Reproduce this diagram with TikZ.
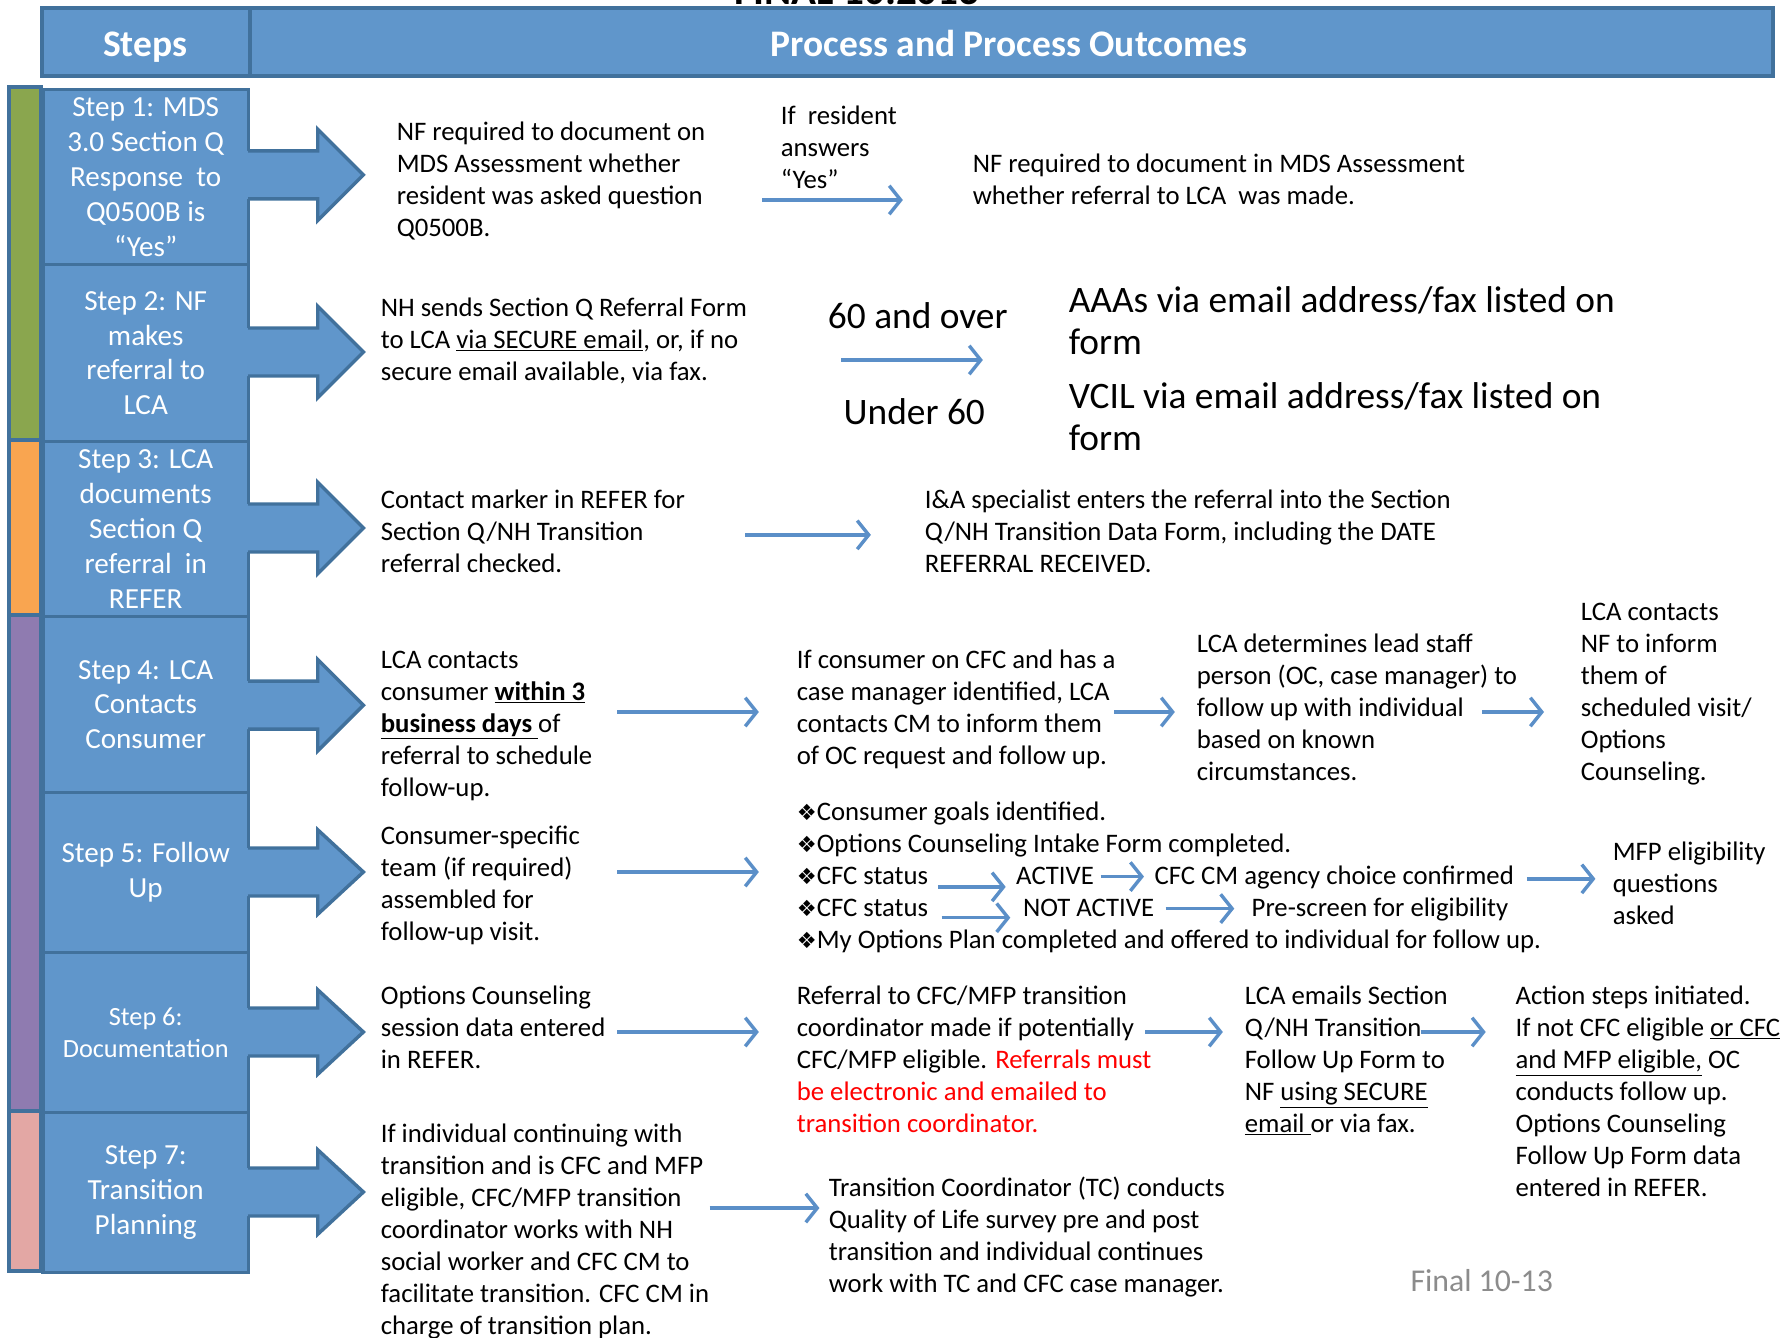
\documentclass[tikz,border=0pt]{standalone}
\usepackage{fontspec}
\setmainfont{Carlito}
\newfontfamily\symfnt{DejaVu Sans}
\usetikzlibrary{arrows.meta}
\definecolor{boxfill}{HTML}{6096CB}
\definecolor{boxline}{HTML}{41719C}
\definecolor{arr}{HTML}{5B8FC8}
\definecolor{sgreen}{HTML}{8AA64E}
\definecolor{sorange}{HTML}{F9A550}
\definecolor{spurple}{HTML}{8F7BB0}
\definecolor{spink}{HTML}{E3A7A4}
\definecolor{finalgray}{HTML}{8C8C8C}
\newcommand\dia{{\symfnt\fontsize{19.5}{28}\selectfont ❖}}
\newcommand\stepArrow[2]{%
  \fill[boxfill] (214,#1-21) -- (278,#1-21) -- (278,#1-#2) -- (318,#1) -- (278,#1+#2) -- (278,#1+21) -- (214,#1+21) -- cycle;
  \draw[boxline, line width=3pt, line join=miter] (217,#1-21) -- (278,#1-21) -- (278,#1-#2) -- (318,#1) -- (278,#1+#2) -- (278,#1+21) -- (217,#1+21);
}
\tikzset{
  txt/.style={anchor=base west, align=left, inner sep=0pt, font=\fontsize{23.4}{28}\selectfont},
  bigtxt/.style={anchor=base west, align=left, inner sep=0pt, font=\fontsize{32.7}{37}\selectfont},
  steptxt/.style={align=center, text=white, inner sep=0pt, font=\fontsize{25.5}{30.5}\selectfont},
  flow/.style={draw=arr, line width=3pt, -{Straight Barb[length=10pt,width=25pt,line width=3pt]}},
  stepbox/.style={draw=boxline, fill=boxfill, line width=3pt, anchor=north west, minimum width=180pt},
  hdrbox/.style={draw=boxline, fill=boxfill, line width=3.5pt, anchor=north west, minimum height=60pt},
  hdrtxt/.style={anchor=base, inner sep=0pt, text=white, font=\fontsize{32.8}{38}\selectfont\bfseries},
  strip/.style={draw=boxline, line width=3pt},
}
\begin{document}
\begin{tikzpicture}[x=1pt,y=-1pt]
\useasboundingbox (0,0) rectangle (1568,1170);
\clip (0,0) rectangle (1568,1170);

% cut-off title
\node[anchor=base, inner sep=0pt, font=\fontsize{36}{40}\selectfont\bfseries] (title) at (750,4) {FINAL 10.2013};

% header
\node[hdrbox, minimum width=182pt] (hsteps) at (35,5) {};
\node[hdrbox, minimum width=1333pt] (hproc) at (217,5) {};
\node[hdrtxt] (hstepst) at (127,49) {Steps};
\node[hdrtxt] (hproct) at (883,49) {Process and Process Outcomes};

% colour strips
\draw[strip, fill=sgreen] (8,76) rectangle (36,385);
\draw[strip, fill=sorange] (8,385) rectangle (36,538);
\draw[strip, fill=spurple] (8,538) rectangle (36,972);
\draw[strip, fill=spink] (8,972) rectangle (36,1112);

% step boxes
\node[stepbox, minimum height=153pt] (s1) at (36,77) {};
\node[steptxt] (s1t) at (s1.center) {Step 1: MDS\\3.0 Section Q\\Response\ \ to\\Q0500B is\\“Yes”};
\node[stepbox, minimum height=155pt] (s2) at (36,230) {};
\node[steptxt] (s2t) at (s2.center) {Step 2: NF\\makes\\referral to\\LCA};
\node[stepbox, minimum height=153pt] (s3) at (36,385) {};
\node[steptxt] (s3t) at (s3.center) {Step 3: LCA\\documents\\Section Q\\referral\ \ in\\REFER};
\node[stepbox, minimum height=154pt] (s4) at (36,538) {};
\node[steptxt] (s4t) at (s4.center) {Step 4: LCA\\Contacts\\Consumer};
\node[stepbox, minimum height=140pt] (s5) at (36,692) {};
\node[steptxt] (s5t) at (s5.center) {Step 5: Follow\\Up};
\node[stepbox, minimum height=140pt] (s6) at (36,832) {};
\node[steptxt, font=\fontsize{23}{28}\selectfont] (s6t) at (s6.center) {Step 6:\\Documentation};
\node[stepbox, minimum height=140pt] (s7) at (36,972) {};
\node[steptxt] (s7t) at (s7.center) {Step 7:\\Transition\\Planning};

% block arrows
\stepArrow{153}{40}
\stepArrow{308}{40}
\stepArrow{462}{40}
\stepArrow{617}{40}
\stepArrow{763}{37}
\stepArrow{903}{37}
\stepArrow{1043}{37}

% Row 1 (anchor = baseline of last line)
\node[txt] (t1a) at (347,207) {NF required to document on\\MDS Assessment whether\\resident was asked question\\Q0500B.};
\node[txt] (t1b) at (683,165) {If\ \ resident\\answers\\“Yes”};
\node[txt] (t1c) at (851,179) {NF required to document in MDS Assessment\\whether referral to LCA\ \ was made.};
\coordinate (a1s) at (667,175); \coordinate (a1e) at (790,175);
\draw[flow] (a1s) -- (a1e);

% Row 2
\node[txt] (t2a) at (333,333) {NH sends Section Q Referral Form\\to LCA \underline{via SECURE email}, or, if no\\secure email available, via fax.};
\node[anchor=base, inner sep=0pt, font=\fontsize{32.7}{37}\selectfont] (t2o) at (803,287) {60 and over};
\node[anchor=base, inner sep=0pt, font=\fontsize{32.7}{37}\selectfont] (t2u) at (800,371) {Under 60};
\coordinate (a2s) at (736,315); \coordinate (a2e) at (860,315);
\draw[flow] (a2s) -- (a2e);
\node[bigtxt] (t2b) at (935,310) {AAAs via email address/fax listed on\\form};
\node[bigtxt] (t2c) at (935,394) {VCIL via email address/fax listed on\\form};

% Row 3
\node[txt] (t3a) at (333,501) {Contact marker in REFER for\\Section Q/NH Transition\\referral checked.};
\node[txt] (t3b) at (809,501) {I\&A specialist enters the referral into the Section\\Q/NH Transition Data Form, including the DATE\\REFERRAL RECEIVED.};
\coordinate (a3s) at (652,468); \coordinate (a3e) at (762,468);
\draw[flow] (a3s) -- (a3e);

% Row 4
\node[txt] (t4a) at (333,697) {LCA contacts\\consumer \textbf{\underline{within 3}}\\\textbf{\underline{business days }}of\\referral to schedule\\follow-up.};
\node[txt] (t4b) at (697,669) {If consumer on CFC and has a\\case manager identified, LCA\\contacts CM to inform them\\of OC request and follow up.};
\node[txt] (t4c) at (1047,683) {LCA determines lead staff\\person (OC, case manager) to\\follow up with individual\\based on known\\circumstances.};
\node[txt] (t4d) at (1383,683) {LCA contacts\\NF to inform\\them of\\scheduled visit/\\Options\\Counseling.};
\coordinate (a4s) at (540,623); \coordinate (a4e) at (664,623);
\draw[flow] (a4s) -- (a4e);
\coordinate (a4bs) at (975,623); \coordinate (a4be) at (1028,623);
\draw[flow] (a4bs) -- (a4be);
\coordinate (a4cs) at (1297,623); \coordinate (a4ce) at (1351,623);
\draw[flow] (a4cs) -- (a4ce);

% Row 5
\node[txt] (t5a) at (333,823) {Consumer-specific\\team (if required)\\assembled for\\follow-up visit.};
\coordinate (a5s) at (540,763); \coordinate (a5e) at (664,763);
\draw[flow] (a5s) -- (a5e);
\node[txt] (b1) at (697,718) {\dia Consumer goals identified.};
\node[txt] (b2) at (697,746) {\dia Options Counseling Intake Form completed.};
\node[txt] (b3) at (697,774) {\dia CFC status};
\node[txt] (b3a) at (889,774) {ACTIVE};
\node[txt] (b3b) at (1010,774) {CFC CM agency choice confirmed};
\node[txt] (b4) at (697,802) {\dia CFC status};
\node[txt] (b4a) at (895,802) {NOT ACTIVE};
\node[txt] (b4b) at (1095,802) {Pre-screen for eligibility};
\node[txt] (b5) at (697,830) {\dia My Options Plan completed and offered to individual for follow up.};
\coordinate (c1s) at (821,776); \coordinate (c1e) at (880,776);
\draw[flow] (c1s) -- (c1e);
\coordinate (c2s) at (963,767); \coordinate (c2e) at (1001,767);
\draw[flow] (c2s) -- (c2e);
\coordinate (c3s) at (824,803); \coordinate (c3e) at (884,803);
\draw[flow] (c3s) -- (c3e);
\coordinate (c4s) at (1020,795); \coordinate (c4e) at (1080,795);
\draw[flow] (c4s) -- (c4e);
\coordinate (c5s) at (1336,769); \coordinate (c5e) at (1396,769);
\draw[flow] (c5s) -- (c5e);
\node[txt] (t5c) at (1411,809) {MFP eligibility\\questions\\asked};

% Row 6
\node[txt] (t6a) at (333,935) {Options Counseling\\session data entered\\in REFER.};
\node[txt] (t6b) at (697,991) {Referral to CFC/MFP transition\\coordinator made if potentially\\CFC/MFP eligible. \textcolor{red}{Referrals must}\\\textcolor{red}{be electronic and emailed to}\\\textcolor{red}{transition coordinator.}};
\node[txt] (t6c) at (1089,991) {LCA emails Section\\Q/NH Transition\\Follow Up Form to\\NF \underline{using SECURE}\\\underline{email }or via fax.};
\node[txt] (t6d) at (1326,1047) {Action steps initiated.\\If not CFC eligible \underline{or CFC}\\\underline{and MFP eligible,} OC\\conducts follow up.\\Options Counseling\\Follow Up Form data\\entered in REFER.};
\coordinate (a6s) at (540,903); \coordinate (a6e) at (664,903);
\draw[flow] (a6s) -- (a6e);
\coordinate (a6bs) at (1002,903); \coordinate (a6be) at (1070,903);
\draw[flow] (a6bs) -- (a6be);
\coordinate (a6cs) at (1243,903); \coordinate (a6ce) at (1300,903);
\draw[flow] (a6cs) -- (a6ce);

% Row 7
\node[txt] (t7a) at (333,1168) {If individual continuing with\\transition and is CFC and MFP\\eligible, CFC/MFP transition\\coordinator works with NH\\social worker and CFC CM to\\facilitate transition. CFC CM in\\charge of transition plan.};
\node[txt] (t7b) at (725,1131) {Transition Coordinator (TC) conducts\\Quality of Life survey pre and post\\transition and individual continues\\work with TC and CFC case manager.};
\coordinate (a7s) at (621,1057); \coordinate (a7e) at (717,1057);
\draw[flow] (a7s) -- (a7e);
\node[anchor=base west, inner sep=0pt, text=finalgray, font=\fontsize{27.8}{32}\selectfont] (fin) at (1234,1130) {Final 10-13};
\end{tikzpicture}
\end{document}
